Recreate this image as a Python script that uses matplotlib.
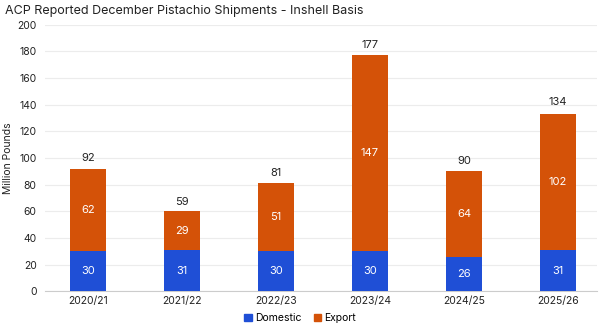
import matplotlib
matplotlib.use("Agg")
import matplotlib.pyplot as plt
from matplotlib.patches import Patch

plt.rcParams['font.family'] = ['Inter', 'DejaVu Sans']

categories = ["2020/21", "2021/22", "2022/23", "2023/24", "2024/25", "2025/26"]
domestic = [30, 31, 30, 30, 26, 31]
export = [62, 29, 51, 147, 64, 102]
totals = [92, 59, 81, 177, 90, 134]

c_dom = "#1f4fd6"
c_exp = "#d45208"

fig = plt.figure(figsize=(6, 3.29), dpi=100)
ax = fig.add_axes([0.075, 0.115, 0.92, 0.81])
x = list(range(len(categories)))
w = 0.39
ax.bar(x, domestic, w, color=c_dom, zorder=3)
ax.bar(x, export, w, bottom=domestic, color=c_exp, zorder=3)
for i in x:
    ax.text(i, domestic[i] / 2, str(domestic[i]), ha='center', va='center', color='white', fontsize=8, zorder=4)
    ax.text(i, domestic[i] + export[i] / 2, str(export[i]), ha='center', va='center', color='white', fontsize=8, zorder=4)
    ax.text(i, totals[i] + 4, str(totals[i]), ha='center', va='bottom', color='#222222', fontsize=8)

ax.set_ylim(0, 200)
ax.set_xlim(-0.457, 5.415)
ax.set_yticks(range(0, 201, 20))
ax.set_xticks(x)
ax.set_xticklabels(categories)
ax.tick_params(axis='both', length=0, labelsize=7.5, colors='#222222')
ax.tick_params(axis='y', pad=6)
ax.grid(axis='y', color='#ececec', linewidth=0.8, zorder=0)
for s in ['top', 'right', 'left']:
    ax.spines[s].set_visible(False)
ax.spines['bottom'].set_color('#cccccc')
ax.set_ylabel("Million Pounds", fontsize=7.5, color='#222222', labelpad=3)

fig.text(0.008, 0.985, "ACP Reported December Pistachio Shipments - Inshell Basis", fontsize=9, va='top', ha='left', color='#222222')

handles = [Patch(color=c_dom, label='Domestic'), Patch(color=c_exp, label='Export')]
fig.legend(handles=handles, loc='lower center', bbox_to_anchor=(0.5, -0.01), ncol=2, frameon=False,
           fontsize=7.5, handlelength=0.7, handleheight=0.7, handletextpad=0.3, columnspacing=1.2)

fig.savefig("out.png", dpi=100)
